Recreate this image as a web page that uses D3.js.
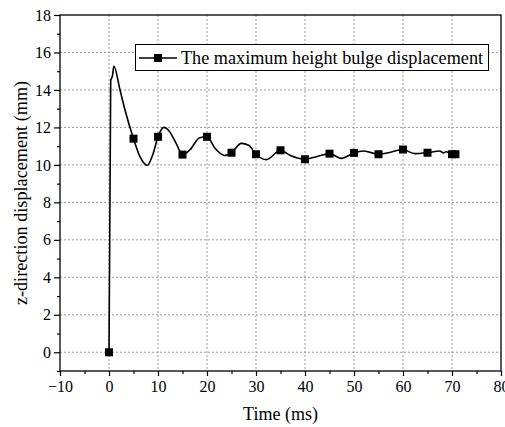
<!DOCTYPE html>
<html>
<head>
<meta charset="utf-8">
<script src="https://cdn.jsdelivr.net/npm/d3@7"></script>
<style>
  body { margin: 0; background: #fff; }
  svg { display: block; }
  svg text { font-family: "Liberation Serif", "Times New Roman", serif !important; fill: #000; }
</style>
</head>
<body>
<svg id="chart" width="505" height="427"></svg>
<script>
// curve (time in ms, displacement in mm)
const lineTime = [0, 0.35, 0.7, 1.0, 2.2, 3.2, 5, 6.3, 7.8, 9, 10, 11.2, 12.3, 13.7, 15, 16.5, 18.5, 20,
  21.6, 23.6, 25, 27, 28.5, 30, 32.1, 35, 37, 40, 42.5, 45, 47.4, 50, 52, 55, 57, 60, 62.4, 65,
  67.5, 68.2, 68.8, 70, 70.7];
const lineDisp = [0, 14.5, 14.75, 15.28, 14.05, 13.0, 11.4, 10.45, 9.98, 10.6, 11.5, 12.0, 11.8, 11.15, 10.55, 10.8, 11.45, 11.5,
  10.9, 10.5, 10.65, 11.15, 11.05, 10.57, 10.28, 10.78, 10.5, 10.3, 10.45, 10.6, 10.35, 10.64, 10.74, 10.57, 10.65, 10.82, 10.6, 10.65,
  10.74, 10.64, 10.7, 10.57, 10.57];

// square markers
const markerTime = [0, 5, 10, 15, 20, 25, 30, 35, 40, 45, 50, 55, 60, 65, 70, 70.7];
const markerDisp = [0, 11.4, 11.5, 10.55, 11.5, 10.65, 10.57, 10.78, 10.3, 10.6, 10.64, 10.57, 10.82, 10.65, 10.57, 10.57];

const xTicks = [-10, 0, 10, 20, 30, 40, 50, 60, 70, 80];
const yTicks = [0, 2, 4, 6, 8, 10, 12, 14, 16, 18];
const seriesName = "The maximum height bulge displacement";

const svg = d3.select("#chart");
const pLeft = 60, pRight = 501, pTop = 15, pBottom = 371;

const x = d3.scaleLinear().domain([-10, 80]).range([pLeft, pRight]);
const y = d3.scaleLinear().domain([-1, 18]).range([pBottom, pTop]);

// grid
svg.append("g").selectAll("line").data(xTicks.slice(1, -1)).enter().append("line")
    .attr("x1", d => x(d)).attr("x2", d => x(d))
    .attr("y1", pTop).attr("y2", pBottom)
    .attr("stroke", "#999").attr("stroke-width", 1).attr("stroke-dasharray", "2,2");
svg.append("g").selectAll("line").data(yTicks.slice(0, -1)).enter().append("line")
    .attr("x1", pLeft).attr("x2", pRight)
    .attr("y1", d => y(d)).attr("y2", d => y(d))
    .attr("stroke", "#999").attr("stroke-width", 1).attr("stroke-dasharray", "2,2");

// axes
let xAxis = svg.append("g").attr("transform", "translate(0," + pBottom + ")")
    .call(d3.axisBottom(x).tickValues(xTicks).tickSize(5).tickPadding(5).tickFormat(d => d < 0 ? "\u2212" + (-d) : d));
let xMinor = svg.append("g").attr("transform", "translate(0," + pBottom + ")")
    .call(d3.axisBottom(x).tickValues(d3.range(-5, 80, 10)).tickSize(3).tickFormat(""));
let yAxis = svg.append("g").attr("transform", "translate(" + pLeft + ",0)")
    .call(d3.axisLeft(y).tickValues(yTicks).tickSize(6).tickPadding(3));
let yMinor = svg.append("g").attr("transform", "translate(" + pLeft + ",0)")
    .call(d3.axisLeft(y).tickValues(d3.range(-1, 18, 2)).tickSize(3).tickFormat(""));

[xAxis, xMinor, yAxis, yMinor].forEach(function (g) {
    g.select(".domain").remove();
    g.selectAll("line").attr("stroke", "#000").attr("stroke-width", 1.2);
    g.selectAll("text").attr("font-size", 16);
});

// frame
svg.append("rect").attr("x", pLeft).attr("y", pTop)
    .attr("width", pRight - pLeft).attr("height", pBottom - pTop)
    .attr("fill", "none").attr("stroke", "#000").attr("stroke-width", 1.3);

// series line
const pts = lineTime.map((t, i) => [t, lineDisp[i]]);
const line = d3.line().x(d => x(d[0])).y(d => y(d[1])).curve(d3.curveMonotoneX);
svg.append("path").datum(pts).attr("d", line)
    .attr("fill", "none").attr("stroke", "#000").attr("stroke-width", 1.6);

svg.append("g").selectAll("rect").data(markerTime).enter().append("rect")
    .attr("x", d => x(d) - 4)
    .attr("y", (d, i) => y(markerDisp[i]) - 4)
    .attr("width", 8).attr("height", 8).attr("fill", "#000");

// legend
const lg = svg.append("g");
lg.append("rect").attr("x", 135.5).attr("y", 44.5).attr("width", 353).attr("height", 26)
    .attr("fill", "#fff").attr("stroke", "#000").attr("stroke-width", 1);
lg.append("line").attr("x1", 139).attr("x2", 177).attr("y1", 58).attr("y2", 58)
    .attr("stroke", "#000").attr("stroke-width", 1.6);
lg.append("rect").attr("x", 154).attr("y", 54).attr("width", 8).attr("height", 8).attr("fill", "#000");
lg.append("text").attr("x", 181).attr("y", 64).attr("font-size", 18.2).text(seriesName);

// axis titles
svg.append("text").attr("x", (pLeft + pRight) / 2).attr("y", 420)
    .attr("text-anchor", "middle").attr("font-size", 18).text("Time (ms)");
svg.append("text").attr("transform", "translate(27," + ((pTop + pBottom) / 2) + ") rotate(-90)")
    .attr("text-anchor", "middle").attr("font-size", 18.2).text("z-direction displacement (mm)");
</script>
</body>
</html>
